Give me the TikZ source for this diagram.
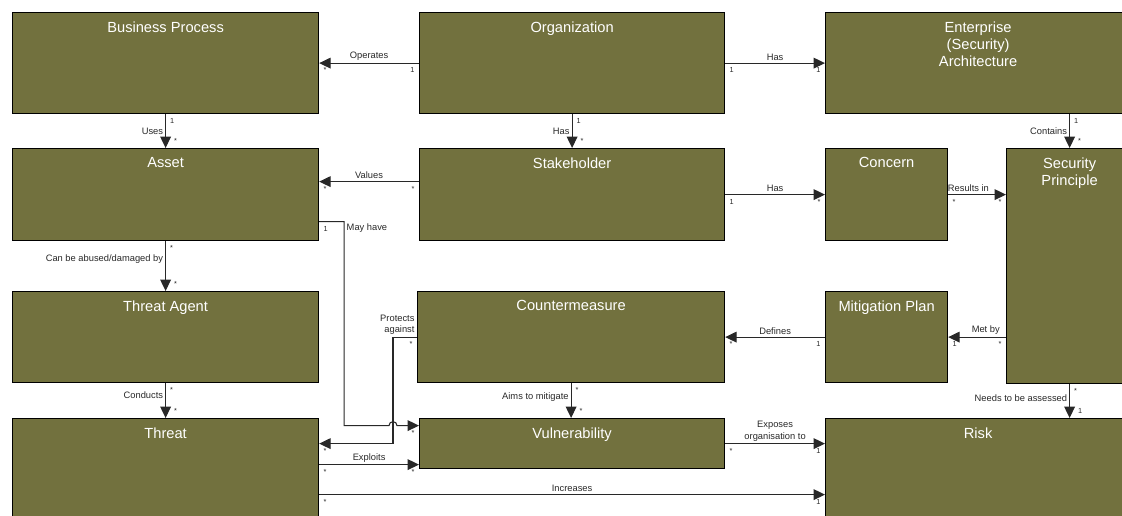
\documentclass[tikz,border=0pt]{standalone}
\usepackage{fontspec}
\setmainfont{Liberation Sans}
\usetikzlibrary{arrows.meta,calc}

\definecolor{olivebox}{RGB}{114,113,62}
\definecolor{linegray}{RGB}{40,40,40}

\tikzset{
  entity/.style={draw=black, line width=0.9pt, fill=olivebox, anchor=north west, inner sep=0pt},
  boxsize/.style 2 args={minimum width=#1*0.75pt, minimum height=#2*0.75pt},
  boxtitle/.style={label={[font=\fontsize{11}{12.75}\selectfont, text=white, anchor=north, yshift=-7pt, inner sep=0pt, align=center]north:#1}},
  conn/.style={draw=linegray, line width=0.8pt, -{Triangle[length=8.5pt,width=8pt]}},
  lbl/.style={font=\fontsize{7}{8.5}\selectfont, text=linegray, inner sep=1.5pt},
  mult/.style={font=\fontsize{5.5}{6}\selectfont, text=linegray, inner sep=3pt},
  tipmult/.style={mult, above right, xshift=3pt}
}

\begin{document}
\begin{tikzpicture}[x=0.75pt, y=-0.75pt]
    \useasboundingbox (0,0) rectangle (1122,515);

    % Draw the boxes, left column
    \node[entity, boxsize={306}{101}, boxtitle=Business Process] (bp) at (12,12) {};
    \node[entity, boxsize={306}{92}, boxtitle=Asset] (asset) at (12,148) {};
    \node[entity, boxsize={306}{91}, boxtitle=Threat Agent] (agent) at (12,291) {};
    \node[entity, boxsize={306}{100}, boxtitle=Threat] (threat) at (12,418) {};

    % Middle column
    \node[entity, boxsize={305}{101}, boxtitle=Organization] (org) at (419,12) {};
    \node[entity, boxsize={305}{92}, boxtitle=Stakeholder] (stake) at (419,148) {};
    \node[entity, boxsize={307}{91}, boxtitle=Countermeasure] (cm) at (417,291) {};
    \node[entity, boxsize={305}{50}, boxtitle=Vulnerability] (vuln) at (419,418) {};

    % Right column
    \node[entity, boxsize={305}{101}, boxtitle={Enterprise\\(Security)\\Architecture}] (ea) at (825,12) {};
    \node[entity, boxsize={122}{92}, boxtitle=Concern] (concern) at (825,148) {};
    \node[entity, boxsize={126}{235}, boxtitle={Security\\Principle}] (sp) at (1006,148) {};
    \node[entity, boxsize={122}{91}, boxtitle=Mitigation Plan] (mp) at (825,291) {};
    \node[entity, boxsize={305}{100}, boxtitle=Risk] (risk) at (825,418) {};

    % Top rows
    \draw[conn] (org.west) node[mult,below left]{1} -- node[lbl,above]{Operates} (bp.east) node[mult,below right]{*};
    \draw[conn] (org.east) node[mult,below right]{1} -- node[lbl,above]{Has} (ea.west) node[mult,below left]{1};
    \draw[conn] (bp.south) node[mult,below right]{1} -- node[lbl,left]{Uses} (asset.north) node[tipmult]{*};
    \draw[conn] (org.south) node[mult,below right]{1} -- node[lbl,left]{Has} (stake.north) node[tipmult]{*};
    \draw[conn] ($(stake.west)+(0,-13)$) node[mult,below left]{*} -- node[lbl,above]{Values} ($(asset.east)+(0,-13)$) node[mult,below right]{*};
    \draw[conn] (stake.east) node[mult,below right]{1} -- node[lbl,above]{Has} (concern.west) node[mult,below left]{*};
    \draw[conn] (ea.south -| sp.north) node[mult,below right]{1} -- node[lbl,left]{Contains} (sp.north) node[tipmult]{*};
    \draw[conn] (concern.east) node[mult,below right]{*} -- node[lbl,above,pos=0.35]{Results in} (concern.east -| sp.west) node[mult,below left]{*};

    % Left column down
    \draw[conn] (asset.south) node[mult,below right]{*} -- node[lbl,left,pos=0.35]{Can be abused/damaged by} (agent.north) node[tipmult]{*};
    \draw[conn] (agent.south) node[mult,below right]{*} -- node[lbl,left,pos=0.35]{Conducts} (threat.north) node[tipmult]{*};

    % May have, hopping over the Protects against line
    \coordinate (hop) at ($(vuln.west)+(-26,-18)$);
    \draw[conn] ($(asset.east)+(0,27)$) node[mult,below right]{1} -- ++(25,0) node[lbl,below right]{May have}
        |- ($(hop)+(-4,0)$) arc[start angle=180, end angle=360, radius=4] -- ($(vuln.west)+(0,-18)$) node[mult,below left]{*};

    % Protects against
    \draw[conn] (cm.west) node[lbl,above left,align=right]{Protects\\against} node[mult,below left]{*}
        -- ++(-24,0) |- ($(threat.east)+(0,-25)$) node[mult,below right]{*};

    % Bottom rows
    \coordinate (ex) at ($(threat.east)+(0,-4)$);
    \draw[conn] (ex) node[mult,below right]{*} -- node[lbl,above]{Exploits} (ex -| vuln.west) node[mult,below left]{*};
    \coordinate (inc) at ($(threat.east)+(0,26)$);
    \draw[conn] (inc) node[mult,below right]{*} -- node[lbl,above]{Increases} (inc -| risk.west) node[mult,below left]{1};
    \draw[conn] (vuln.east) node[mult,below right]{*} -- node[lbl,above,align=center]{Exposes\\organisation to} (vuln.east -| risk.west) node[mult,below left]{1};
    \draw[conn] (cm.south) node[mult,below right]{*} -- node[lbl,left,pos=0.4]{Aims to mitigate} (cm.south |- vuln.north) node[tipmult]{*};
    \draw[conn] (mp.west) node[mult,below left]{1} -- node[lbl,above]{Defines} (cm.east) node[mult,below right]{*};
    \draw[conn] (mp.east -| sp.west) node[mult,below left]{*} -- node[lbl,above,pos=0.35]{Met by} (mp.east) node[mult,below right]{1};
    \draw[conn] (sp.south) node[mult,below right]{*} -- node[lbl,left,pos=0.4]{Needs to be assessed} (sp.south |- risk.north) node[tipmult]{1};

\end{tikzpicture}
\end{document}
